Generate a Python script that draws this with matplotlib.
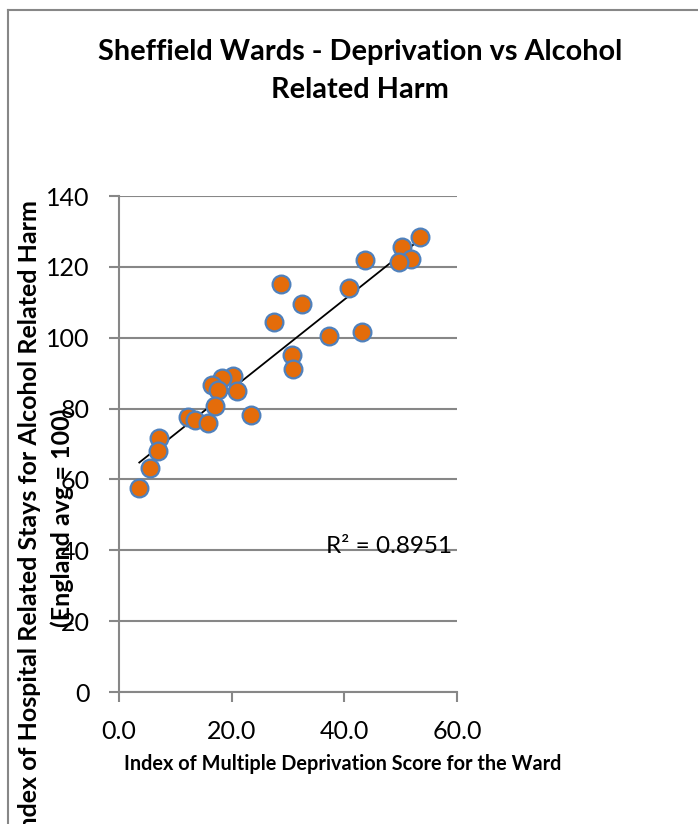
"""
Sheffield wards: deprivation score vs alcohol related hospital stays.
Saves out.png (698x824).
"""
import numpy as np
import matplotlib
matplotlib.use("Agg")
import matplotlib.pyplot as plt
from matplotlib.lines import Line2D

FONT   = "Lato"
ORANGE = "#E46C0A"
EDGE   = "#4F81BD"
GRID   = "#878787"
TEXT   = "#000000"

# ── data ─────────────────────────────────────────────────────────────────
imd_score = [53.4, 50.3, 51.8, 49.7, 43.7, 40.8, 28.8, 32.4, 27.6, 37.2,
             43.1, 30.7, 30.8, 20.3, 18.3, 16.5, 17.6, 20.9, 17.0, 23.5,
             12.3, 13.5, 15.8, 7.1, 6.9, 5.5, 3.6]
alcohol_index = [128.5, 125.7, 122.1, 121.5, 121.8, 113.9, 115.2, 109.4, 104.5, 100.6,
                 101.5, 95.0, 91.1, 89.2, 88.5, 86.6, 85.2, 85.0, 80.7, 78.2,
                 77.5, 76.8, 76.0, 71.6, 68.1, 63.1, 57.5]
r_squared = 0.8951

x_ticks = [0, 20, 40, 60]
y_ticks = [0, 20, 40, 60, 80, 100, 120, 140]

W, H = 698, 824
fig = plt.figure(figsize=(W / 100, H / 100), dpi=100, facecolor="white")
ax = fig.add_axes([119 / W, 1 - 692 / H, 338 / W, 496 / H])

# trend line (linear fit over the data range)
x = np.array(imd_score)
y = np.array(alcohol_index)
slope, icpt = np.polyfit(x, y, 1)
xs = np.array([x.min(), x.max()])
ax.plot(xs, slope * xs + icpt, color="black", linewidth=1.3, zorder=2)

ax.plot(x, y, linestyle="none", marker="o", markersize=12.8,
        markerfacecolor=ORANGE, markeredgecolor=EDGE, markeredgewidth=1.6, zorder=3)

ax.set_xlim(0, 60)
ax.set_ylim(0, 140)
ax.set_xticks(x_ticks)
ax.set_xticklabels([f"{v:.1f}" for v in x_ticks])
ax.set_yticks(y_ticks)
ax.yaxis.grid(True, color=GRID, linewidth=1.5)
ax.set_axisbelow(True)
ax.spines[["top", "right"]].set_visible(False)
for s in ["left", "bottom"]:
    ax.spines[s].set_color(GRID)
    ax.spines[s].set_linewidth(1.5)
ax.tick_params(colors=GRID, labelcolor=TEXT, width=1.5, length=7, labelsize=18)
ax.tick_params(axis="x", pad=13)
ax.tick_params(axis="y", pad=14)
for lab in ax.get_xticklabels() + ax.get_yticklabels():
    lab.set_family(FONT)

ax.text(0.985, 39.3, f"R² = {r_squared:.4f}", transform=ax.get_yaxis_transform(),
        ha="right", va="baseline", fontsize=17.5, family=FONT, color=TEXT)

# titles and axis labels
fig.text(360 / W, 1 - 60 / H, "Sheffield Wards - Deprivation vs Alcohol",
         ha="center", va="baseline", fontsize=20.8, fontweight="bold", family=FONT)
fig.text(360 / W, 1 - 98 / H, "Related Harm",
         ha="center", va="baseline", fontsize=20.8, fontweight="bold", family=FONT)

fig.text(343 / W, 1 - 764 / H, "Index of Multiple Deprivation Score for the Ward",
         ha="center", va="center", fontsize=14.3, fontweight="bold", family=FONT)
fig.text(30 / W, 1 - 519 / H, "Index of Hospital Related Stays for Alcohol Related Harm",
         ha="center", va="center", rotation=90, fontsize=18, fontweight="bold", family=FONT)
fig.text(62 / W, 1 - 518 / H, "(England avg = 100)",
         ha="center", va="center", rotation=90, fontsize=18, fontweight="bold", family=FONT)

# chart border (top and left edges visible)
fig.add_artist(Line2D([8 / W, 8 / W], [0, 1 - 10 / H], color=GRID, linewidth=1.5))
fig.add_artist(Line2D([8 / W, 1], [1 - 10 / H, 1 - 10 / H], color=GRID, linewidth=1.5))

fig.savefig("out.png", dpi=100, facecolor="white")
print("saved out.png")
